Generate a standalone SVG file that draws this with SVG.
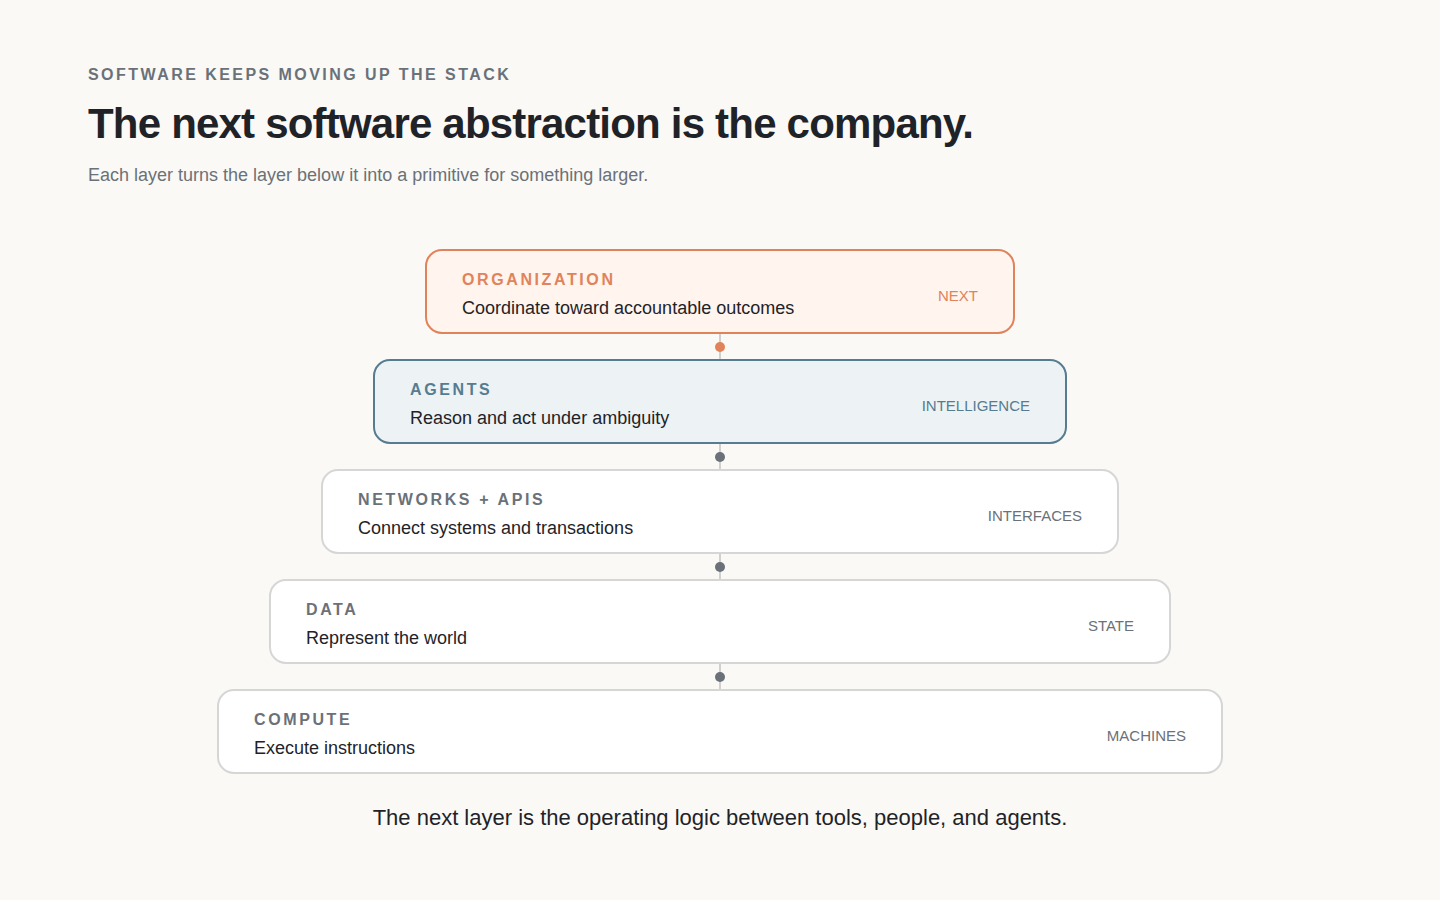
<svg xmlns="http://www.w3.org/2000/svg" width="1440" height="900" viewBox="0 0 1440 900">
<style>
text{font-family:"Liberation Sans",Arial,sans-serif}
.eyebrow{font-size:16px;font-weight:700;letter-spacing:2.45px;fill:#6b7178}
.title{font-size:42px;font-weight:700;fill:#1f2328;letter-spacing:-0.8px}
.sub{font-size:18px;fill:#6b7178}
.box{fill:#ffffff;stroke:#d6d6d6;stroke-width:2}
.name{font-size:16px;font-weight:700;letter-spacing:2.6px;fill:#6b7178}
.desc{font-size:18px;fill:#1f2328}
.tag{font-size:15px;fill:#6b7178;text-anchor:end}
.org .box{fill:#fff4ee;stroke:#e0835a}
.org .name,.org .tag{fill:#e0835a}
.ag .box{fill:#edf2f5;stroke:#557c90}
.ag .name,.ag .tag{fill:#557c90}
.line{stroke:#d0d0d0;stroke-width:2}
.dot{fill:#6b7178}
.foot{font-size:22px;fill:#1f2328;text-anchor:middle}
</style>
<rect width="1440" height="900" fill="#faf9f6"/>
<text class="eyebrow" x="88" y="80">SOFTWARE KEEPS MOVING UP THE STACK</text>
<text class="title" x="88" y="138">The next software abstraction is the company.</text>
<text class="sub" x="88" y="181">Each layer turns the layer below it into a primitive for something larger.</text>
<g id="connectors">
<line class="line" x1="720" y1="333" x2="720" y2="360"/><circle cx="720" cy="347" r="5" fill="#e0835a"/>
<line class="line" x1="720" y1="443" x2="720" y2="470"/><circle class="dot" cx="720" cy="457" r="5"/>
<line class="line" x1="720" y1="553" x2="720" y2="580"/><circle class="dot" cx="720" cy="567" r="5"/>
<line class="line" x1="720" y1="663" x2="720" y2="690"/><circle class="dot" cx="720" cy="677" r="5"/>
</g>
<g id="organization" class="org">
<rect class="box" x="426" y="250" width="588" height="83" rx="16"/>
<text class="name" x="462" y="285">ORGANIZATION</text>
<text class="desc" x="462" y="314">Coordinate toward accountable outcomes</text>
<text class="tag" x="978" y="301">NEXT</text>
</g>
<g id="agents" class="ag">
<rect class="box" x="374" y="360" width="692" height="83" rx="16"/>
<text class="name" x="410" y="395">AGENTS</text>
<text class="desc" x="410" y="424">Reason and act under ambiguity</text>
<text class="tag" x="1030" y="411">INTELLIGENCE</text>
</g>
<g id="networks">
<rect class="box" x="322" y="470" width="796" height="83" rx="16"/>
<text class="name" x="358" y="505">NETWORKS + APIS</text>
<text class="desc" x="358" y="534">Connect systems and transactions</text>
<text class="tag" x="1082" y="521">INTERFACES</text>
</g>
<g id="data">
<rect class="box" x="270" y="580" width="900" height="83" rx="16"/>
<text class="name" x="306" y="615">DATA</text>
<text class="desc" x="306" y="644">Represent the world</text>
<text class="tag" x="1134" y="631">STATE</text>
</g>
<g id="compute">
<rect class="box" x="218" y="690" width="1004" height="83" rx="16"/>
<text class="name" x="254" y="725">COMPUTE</text>
<text class="desc" x="254" y="754">Execute instructions</text>
<text class="tag" x="1186" y="741">MACHINES</text>
</g>
<text class="foot" x="720" y="825">The next layer is the operating logic between tools, people, and agents.</text>
</svg>
